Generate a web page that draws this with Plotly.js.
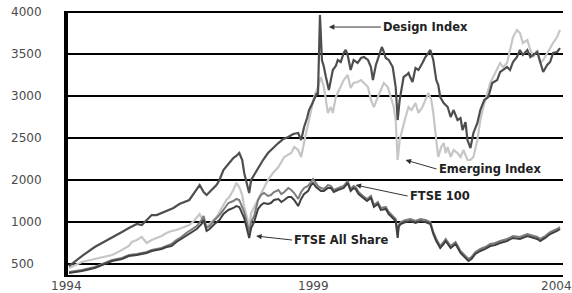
<!DOCTYPE html>
<html>
<head>
<meta charset="utf-8">
<script src="https://cdn.plot.ly/plotly-3.0.1.min.js"></script>
<style>html,body{margin:0;padding:0;background:#fff;}#chart{width:572px;height:293px;}</style>
</head>
<body>
<div id="chart"></div>
<script>
// ---- data (x: decimal years, y: index value on the chart's axis scale) ----
const designYears = [1994.02,1994.28,1994.54,1994.89,1995.09,1995.23,1995.39,1995.49,1995.59,1995.69,1995.79,1995.89,1995.99,1996.13,1996.25,1996.35,1996.45,1996.56,1996.66,1996.74,1996.80,1996.90,1997.00,1997.06,1997.14,1997.24,1997.34,1997.40,1997.46,1997.52,1997.56,1997.62,1997.66,1997.70,1997.76,1997.84,1997.94,1998.04,1998.14,1998.25,1998.35,1998.45,1998.55,1998.65,1998.71,1998.77,1998.83,1998.87,1998.93,1998.97,1999.03,1999.05,1999.09,1999.13,1999.17,1999.21,1999.27,1999.31,1999.35,1999.41,1999.45,1999.51,1999.57,1999.61,1999.65,1999.71,1999.77,1999.85,1999.92,1999.98,2000.06,2000.12,2000.16,2000.22,2000.28,2000.34,2000.38,2000.42,2000.48,2000.56,2000.62,2000.66,2000.70,2000.74,2000.78,2000.84,2000.88,2000.92,2000.96,2001.02,2001.08,2001.16,2001.22,2001.28,2001.32,2001.38,2001.44,2001.48,2001.52,2001.59,2001.67,2001.73,2001.79,2001.87,2001.93,2001.97,2002.03,2002.07,2002.13,2002.19,2002.27,2002.33,2002.41,2002.49,2002.57,2002.67,2002.73,2002.79,2002.87,2002.93,2002.99,2003.07,2003.13,2003.19,2003.28,2003.34,2003.40,2003.48,2003.54,2003.60,2003.68,2003.74,2003.80,2003.88,2003.94];
const designIndex = [976,1095,1202,1310,1381,1429,1476,1464,1524,1583,1583,1607,1631,1667,1714,1738,1762,1857,1940,1857,1821,1881,1940,2000,2119,2190,2262,2286,2321,2238,2083,1940,1845,2000,2060,2155,2238,2321,2381,2440,2488,2512,2548,2560,2476,2631,2738,2833,2905,2952,3036,3012,3964,3429,3345,3226,3071,3190,3310,3357,3429,3405,3512,3548,3488,3310,3429,3393,3452,3464,3429,3345,3190,3369,3464,3583,3524,3452,3429,3345,3107,2714,2952,3071,3226,3250,3274,3214,3167,3333,3310,3393,3464,3512,3548,3429,3190,3131,2988,2917,2869,2750,2833,2714,2738,2595,2690,2476,2381,2560,2679,2833,2952,2988,3155,3190,3286,3310,3345,3310,3405,3464,3548,3488,3548,3464,3488,3524,3405,3286,3369,3405,3512,3524,3571];

const emergingYears = [1994.02,1994.28,1994.54,1994.89,1995.09,1995.23,1995.29,1995.39,1995.49,1995.59,1995.69,1995.79,1995.89,1995.99,1996.09,1996.19,1996.29,1996.45,1996.56,1996.66,1996.74,1996.80,1996.90,1997.00,1997.06,1997.14,1997.20,1997.26,1997.34,1997.40,1997.46,1997.52,1997.56,1997.62,1997.66,1997.70,1997.76,1997.84,1997.94,1998.04,1998.14,1998.25,1998.37,1998.45,1998.51,1998.57,1998.65,1998.71,1998.77,1998.81,1998.87,1998.91,1998.97,1999.05,1999.11,1999.17,1999.21,1999.25,1999.31,1999.35,1999.41,1999.47,1999.51,1999.57,1999.65,1999.71,1999.77,1999.85,1999.92,1999.98,2000.06,2000.12,2000.18,2000.26,2000.32,2000.38,2000.46,2000.52,2000.58,2000.62,2000.66,2000.70,2000.76,2000.82,2000.88,2000.94,2001.02,2001.08,2001.16,2001.22,2001.28,2001.34,2001.38,2001.44,2001.48,2001.54,2001.59,2001.63,2001.67,2001.73,2001.79,2001.87,2001.93,2001.99,2002.07,2002.13,2002.19,2002.27,2002.33,2002.39,2002.47,2002.53,2002.63,2002.73,2002.79,2002.87,2002.93,2002.99,2003.07,2003.13,2003.19,2003.28,2003.34,2003.40,2003.48,2003.54,2003.60,2003.68,2003.74,2003.80,2003.88,2003.94];
const emergingIndex = [952,1024,1060,1107,1167,1214,1262,1286,1321,1250,1286,1310,1333,1369,1393,1405,1429,1464,1524,1595,1500,1440,1500,1560,1619,1702,1762,1798,1881,1964,1917,1821,1679,1548,1429,1607,1679,1762,1881,2000,2083,2155,2274,2298,2321,2393,2357,2274,2476,2560,2714,2833,2988,3107,3226,3107,2952,2798,2869,2798,2988,3071,3107,3190,3250,3095,3155,3167,3190,3155,3107,2952,2869,2988,3071,3155,3107,2988,2869,2714,2238,2476,2631,2750,2869,2833,2917,2798,2869,2952,3036,2952,2798,2476,2274,2393,2440,2321,2393,2274,2357,2321,2274,2357,2238,2238,2274,2476,2714,2869,3036,3155,3274,3393,3345,3393,3548,3702,3786,3750,3631,3667,3548,3464,3548,3393,3429,3512,3583,3631,3702,3786];

const ftseYears = [1994.02,1994.28,1994.54,1994.78,1994.89,1995.09,1995.23,1995.39,1995.49,1995.59,1995.69,1995.79,1995.89,1995.99,1996.09,1996.19,1996.29,1996.39,1996.49,1996.60,1996.70,1996.74,1996.80,1996.86,1996.96,1997.06,1997.14,1997.24,1997.34,1997.40,1997.46,1997.50,1997.56,1997.60,1997.66,1997.70,1997.76,1997.84,1997.90,1997.96,1998.04,1998.10,1998.16,1998.25,1998.31,1998.37,1998.45,1998.51,1998.57,1998.65,1998.71,1998.77,1998.85,1998.91,1998.95,1999.01,1999.05,1999.11,1999.17,1999.25,1999.31,1999.37,1999.45,1999.51,1999.57,1999.65,1999.71,1999.77,1999.81,1999.87,1999.96,2000.04,2000.12,2000.18,2000.26,2000.32,2000.42,2000.48,2000.56,2000.62,2000.66,2000.68,2000.72,2000.82,2000.92,2001.02,2001.12,2001.22,2001.32,2001.38,2001.44,2001.52,2001.59,2001.63,2001.73,2001.83,2001.93,2002.03,2002.09,2002.15,2002.23,2002.33,2002.43,2002.53,2002.63,2002.73,2002.87,2002.99,2003.13,2003.28,2003.40,2003.48,2003.54,2003.64,2003.74,2003.80,2003.88,2003.94];
const ftse100 = [905,929,964,1024,1048,1071,1107,1119,1131,1143,1167,1179,1190,1214,1238,1286,1321,1369,1405,1452,1524,1571,1429,1452,1524,1583,1643,1726,1750,1774,1762,1702,1619,1524,1381,1500,1571,1762,1821,1845,1810,1821,1857,1881,1833,1857,1905,1881,1845,1774,1857,1905,1929,1976,2012,1964,1929,1905,1893,1940,1929,1881,1905,1917,1929,1988,1893,1929,1917,1857,1810,1774,1810,1702,1738,1667,1679,1619,1571,1536,1345,1464,1500,1524,1536,1512,1536,1524,1500,1381,1298,1214,1262,1298,1214,1262,1155,1095,1060,1083,1143,1179,1202,1238,1250,1274,1298,1333,1321,1357,1333,1321,1298,1333,1381,1393,1417,1440];
const ftseAllShare = [893,917,952,1012,1036,1060,1095,1107,1119,1131,1155,1167,1179,1202,1214,1262,1298,1333,1369,1417,1476,1524,1393,1417,1476,1524,1595,1643,1667,1690,1679,1631,1548,1452,1310,1429,1500,1655,1702,1726,1714,1726,1762,1774,1738,1762,1798,1798,1762,1690,1774,1833,1869,1940,1964,1917,1893,1869,1869,1905,1905,1857,1881,1893,1905,1964,1869,1905,1893,1833,1786,1750,1786,1679,1714,1643,1655,1595,1548,1512,1310,1440,1476,1500,1512,1488,1512,1500,1476,1357,1274,1190,1238,1274,1190,1238,1131,1071,1036,1060,1119,1155,1179,1214,1226,1250,1274,1310,1298,1333,1310,1298,1274,1310,1357,1369,1393,1417];

const yTickVals = [1000,1500,2000,2500,3000,3500,4000];
const yTickText = ['500','1000','2000','2500','3000','3500','4000'];
const xTickVals = [1994,1999,2004];
const xTickText = ['1994','1999','2004'];

const seriesNames = ['Design Index','Emerging Index','FTSE 100','FTSE All Share'];

// ---- traces ----
const traces = [
  {x: emergingYears, y: emergingIndex, name: seriesNames[1], mode: 'lines', line: {color: '#c6c6c6', width: 2.2}},
  {x: designYears, y: designIndex, name: seriesNames[0], mode: 'lines', line: {color: '#4e4e4e', width: 2.2}},
  {x: ftseYears, y: ftse100, name: seriesNames[2], mode: 'lines', line: {color: '#7c7c7c', width: 2}},
  {x: ftseYears, y: ftseAllShare, name: seriesNames[3], mode: 'lines', line: {color: '#404040', width: 2}}
];

const L = 68, R = 9, T = 11, B = 18, W = 572, H = 293;
const plotW = W - L - R;

const annotations = [];
// y tick labels, left aligned
yTickVals.forEach((v, i) => annotations.push({
  xref: 'paper', yref: 'y', x: (9 - L) / plotW, y: v, xanchor: 'left', yanchor: 'middle',
  text: yTickText[i], showarrow: false, font: {family: 'DejaVu Sans', size: 12, color: '#4a4a4a'}
}));
// x tick labels
xTickVals.forEach((v, i) => annotations.push({
  xref: 'x', yref: 'paper', x: v, y: 0, xanchor: 'center', yanchor: 'top', yshift: -2,
  xshift: i === xTickVals.length - 1 ? -7 : -2,
  text: xTickText[i], showarrow: false, font: {family: 'DejaVu Sans', size: 12, color: '#4a4a4a'}
}));
// series call-outs: arrow head at (x, y); text box left edge offset by ax/ay pixels
const labelFont = {family: 'DejaVu Sans', size: 11.5, color: '#222'};
const callouts = [
  {text: seriesNames[0], x: 1999.27, y: 3821, ax: 52, ay: 0},
  {text: seriesNames[1], x: 2000.82, y: 2238, ax: 31, ay: 9},
  {text: seriesNames[2], x: 1999.81, y: 1940, ax: 52, ay: 11},
  {text: seriesNames[3], x: 1997.80, y: 1333, ax: 36, ay: 4}
];
callouts.forEach(c => annotations.push({
  xref: 'x', yref: 'y', x: c.x, y: c.y, ax: c.ax, ay: c.ay,
  xanchor: 'left', yanchor: 'middle',
  text: '<b>' + c.text + '</b>', showarrow: true, arrowhead: 2, arrowsize: 1.1, arrowwidth: 1,
  arrowcolor: '#333', font: labelFont, standoff: 0
}));

const layout = {
  width: W, height: H,
  margin: {l: L, r: R, t: T, b: B, pad: 0},
  paper_bgcolor: '#fff', plot_bgcolor: '#fff',
  showlegend: false,
  xaxis: {
    range: [1994, 2004], showgrid: false, zeroline: false,
    showline: true, linecolor: '#000', linewidth: 2,
    showticklabels: false, ticks: ''
  },
  yaxis: {
    range: [869, 4012], tickvals: yTickVals, showticklabels: false, ticks: '',
    showgrid: true, gridcolor: '#000', gridwidth: 2, zeroline: false,
    showline: true, linecolor: '#000', linewidth: 4
  },
  annotations: annotations
};

Plotly.newPlot('chart', traces, layout, {staticPlot: true, displayModeBar: false});
</script>
</body>
</html>
